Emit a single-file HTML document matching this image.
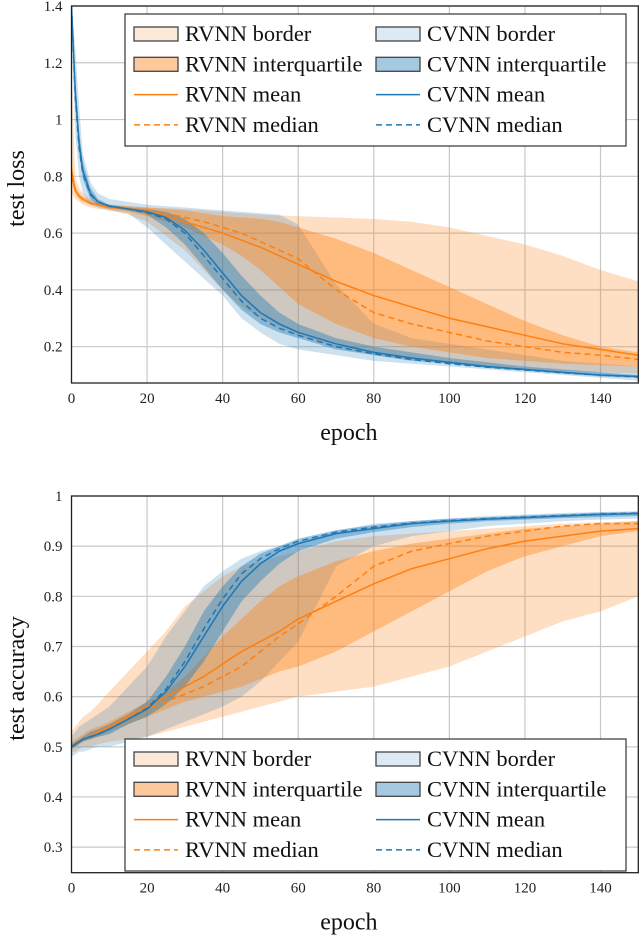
<!DOCTYPE html>
<html><head><meta charset="utf-8">
<style>
html,body{margin:0;padding:0;background:#fff;}
svg{display:block;font-family:"Liberation Serif",serif;}
</style></head>
<body>
<svg id="chart" width="640" height="935" viewBox="0 0 640 935" xmlns="http://www.w3.org/2000/svg"></svg>
<script>
const epochs = [0,1,2,3,5,7,10,15,20,25,30,35,40,45,50,55,60,70,80,90,100,110,120,130,140,150];
// test loss
const lossRMean = [0.82,0.75,0.73,0.72,0.705,0.70,0.69,0.685,0.675,0.66,0.64,0.62,0.60,0.575,0.55,0.52,0.49,0.43,0.38,0.34,0.30,0.27,0.24,0.21,0.19,0.17];
const lossRMed  = [0.80,0.75,0.73,0.72,0.705,0.70,0.69,0.688,0.68,0.67,0.655,0.64,0.62,0.60,0.57,0.54,0.51,0.40,0.32,0.28,0.25,0.22,0.20,0.18,0.17,0.155];
const lossRQ3   = [0.85,0.77,0.74,0.73,0.715,0.705,0.70,0.695,0.69,0.685,0.68,0.67,0.66,0.655,0.65,0.64,0.62,0.58,0.53,0.47,0.41,0.35,0.29,0.24,0.20,0.18];
const lossRQ1   = [0.78,0.74,0.72,0.71,0.70,0.695,0.685,0.675,0.66,0.64,0.62,0.59,0.56,0.52,0.47,0.41,0.35,0.28,0.23,0.20,0.18,0.16,0.15,0.14,0.135,0.13];
const lossRMax  = [1.17,0.80,0.76,0.74,0.72,0.71,0.70,0.695,0.69,0.688,0.685,0.68,0.675,0.67,0.665,0.662,0.66,0.655,0.65,0.64,0.62,0.59,0.56,0.52,0.47,0.43];
const lossRMin  = [0.74,0.72,0.71,0.70,0.69,0.685,0.68,0.665,0.64,0.59,0.54,0.47,0.40,0.34,0.30,0.27,0.24,0.20,0.17,0.155,0.14,0.13,0.12,0.115,0.11,0.105];
const lossCMean = [1.40,1.10,0.92,0.82,0.74,0.71,0.695,0.685,0.675,0.655,0.61,0.54,0.46,0.38,0.32,0.28,0.25,0.21,0.18,0.16,0.145,0.13,0.12,0.11,0.10,0.095];
const lossCMed  = [1.40,1.08,0.90,0.81,0.735,0.71,0.695,0.685,0.672,0.65,0.60,0.52,0.44,0.36,0.30,0.265,0.24,0.20,0.175,0.155,0.14,0.128,0.118,0.108,0.10,0.093];
const lossCQ3   = [1.40,1.15,0.96,0.85,0.76,0.72,0.70,0.69,0.685,0.675,0.65,0.60,0.53,0.45,0.38,0.32,0.28,0.23,0.20,0.18,0.16,0.145,0.13,0.12,0.11,0.10];
const lossCQ1   = [1.38,1.05,0.88,0.79,0.72,0.70,0.69,0.68,0.665,0.62,0.56,0.48,0.40,0.33,0.28,0.25,0.23,0.19,0.17,0.15,0.14,0.125,0.115,0.105,0.095,0.09];
const lossCMax  = [1.40,1.25,1.05,0.88,0.78,0.74,0.72,0.71,0.70,0.695,0.69,0.685,0.68,0.675,0.67,0.665,0.63,0.42,0.28,0.23,0.21,0.19,0.17,0.15,0.14,0.13];
const lossCMin  = [1.30,0.95,0.80,0.74,0.70,0.69,0.68,0.67,0.62,0.56,0.50,0.44,0.38,0.30,0.25,0.21,0.19,0.17,0.15,0.14,0.13,0.12,0.11,0.10,0.09,0.08];
// test accuracy
const accRMean = [0.50,0.505,0.51,0.515,0.52,0.53,0.54,0.56,0.58,0.60,0.62,0.64,0.665,0.69,0.71,0.73,0.755,0.79,0.825,0.855,0.875,0.895,0.91,0.92,0.93,0.935];
const accRMed  = [0.50,0.505,0.51,0.515,0.52,0.53,0.54,0.558,0.575,0.59,0.605,0.62,0.64,0.66,0.69,0.72,0.745,0.80,0.86,0.89,0.905,0.92,0.93,0.94,0.945,0.945];
const accRQ3   = [0.51,0.515,0.52,0.525,0.535,0.54,0.55,0.57,0.59,0.61,0.64,0.68,0.72,0.755,0.79,0.82,0.84,0.87,0.89,0.905,0.915,0.925,0.935,0.94,0.945,0.95];
const accRQ1   = [0.50,0.50,0.505,0.51,0.515,0.52,0.53,0.545,0.56,0.575,0.59,0.60,0.61,0.62,0.635,0.65,0.66,0.69,0.73,0.77,0.81,0.85,0.88,0.90,0.92,0.93];
const accRMax  = [0.53,0.54,0.55,0.56,0.57,0.585,0.61,0.65,0.69,0.73,0.78,0.81,0.84,0.86,0.87,0.88,0.89,0.91,0.92,0.925,0.93,0.935,0.94,0.945,0.948,0.95];
const accRMin  = [0.49,0.49,0.495,0.50,0.50,0.505,0.51,0.515,0.52,0.53,0.54,0.55,0.56,0.57,0.58,0.59,0.60,0.61,0.62,0.64,0.66,0.69,0.72,0.75,0.77,0.80];
const accCMean = [0.50,0.505,0.51,0.515,0.52,0.525,0.535,0.555,0.575,0.61,0.66,0.72,0.78,0.83,0.865,0.89,0.905,0.925,0.935,0.945,0.95,0.954,0.957,0.96,0.963,0.965];
const accCMed  = [0.50,0.505,0.51,0.515,0.52,0.525,0.535,0.555,0.577,0.615,0.67,0.735,0.795,0.845,0.875,0.895,0.91,0.928,0.938,0.946,0.951,0.955,0.958,0.961,0.964,0.966];
const accCQ3   = [0.505,0.51,0.515,0.52,0.53,0.535,0.545,0.565,0.59,0.64,0.70,0.77,0.82,0.86,0.885,0.90,0.915,0.932,0.942,0.95,0.955,0.958,0.961,0.964,0.967,0.968];
const accCQ1   = [0.495,0.50,0.505,0.51,0.515,0.52,0.525,0.545,0.56,0.585,0.62,0.67,0.73,0.79,0.83,0.865,0.89,0.915,0.928,0.938,0.945,0.95,0.953,0.956,0.958,0.96];
const accCMax  = [0.52,0.53,0.54,0.545,0.555,0.565,0.58,0.62,0.66,0.72,0.77,0.82,0.85,0.875,0.89,0.90,0.91,0.93,0.945,0.95,0.955,0.96,0.963,0.966,0.968,0.97];
const accCMin  = [0.48,0.485,0.49,0.49,0.495,0.50,0.50,0.51,0.52,0.535,0.55,0.565,0.58,0.60,0.63,0.67,0.71,0.86,0.90,0.92,0.93,0.94,0.945,0.95,0.953,0.955];
const xTicks = [0,20,40,60,80,100,120,140];
const lossTicks = [0.2,0.4,0.6,0.8,1,1.2,1.4];
const accTicks = [0.3,0.4,0.5,0.6,0.7,0.8,0.9,1];
const legendLabels = ["RVNN border","RVNN interquartile","RVNN mean","RVNN median","CVNN border","CVNN interquartile","CVNN mean","CVNN median"];

const NS = "http://www.w3.org/2000/svg";
const svg = document.getElementById("chart");
const OR = "#ff7f0e", BL = "#1f77b4";
function mk(tag, attrs, parent){
  const e = document.createElementNS(NS, tag);
  for (const k in attrs) e.setAttribute(k, attrs[k]);
  (parent||svg).appendChild(e);
  return e;
}
function fmt(v){ return String(+v.toFixed(2)); }

function panel(cfg){
  const L=71.5, R=638.3, T=cfg.top, B=cfg.bottom;
  const xs = v => L + (v-0)/(150-0)*(R-L);
  const ys = v => B - (v-cfg.ymin)/(cfg.ymax-cfg.ymin)*(B-T);
  const g = mk("g", {});
  
  
  const cid = cfg.name + "-clip";
  const cp = mk("clipPath", {id: cid}, g);
  mk("rect", {x:L, y:T, width:R-L, height:B-T}, cp);
  xTicks.forEach(t=>{
    const l = mk("line",{x1:xs(t),x2:xs(t),y1:T,y2:B,stroke:"#c8c8c8","stroke-width":1.2},g);
    
    
  });
  cfg.yTicks.forEach(t=>{
    const l = mk("line",{x1:L,x2:R,y1:ys(t),y2:ys(t),stroke:"#c8c8c8","stroke-width":1.2},g);
    
    
  });
  const plot = mk("g", {"clip-path":"url(#"+cid+")"}, g);
  function band(lo, hi, fill, name){
    let d = "M";
    epochs.forEach((e,i)=>{ d += (i?" L":"") + xs(e).toFixed(2)+","+ys(hi[i]).toFixed(2); });
    for (let i=epochs.length-1;i>=0;i--) d += " L"+xs(epochs[i]).toFixed(2)+","+ys(lo[i]).toFixed(2);
    const p = mk("path",{d:d+" Z", fill:fill, stroke:"none"}, plot);
    
    
  }
  function line(arr, color, dash, name){
    const d = "M" + epochs.map((e,i)=>xs(e).toFixed(2)+","+ys(arr[i]).toFixed(2)).join(" L");
    const p = mk("path",{d:d, fill:"none", stroke:color, "stroke-width":1.5, "stroke-dasharray":dash||"none"}, plot);
    
    
  }
  const D = cfg.data;
  band(D.rMin, D.rMax, "rgba(255,127,14,0.25)", "rvnn-border-band");
  band(D.cMin, D.cMax, "rgba(31,119,180,0.22)", "cvnn-border-band");
  band(D.rQ1, D.rQ3, "rgba(255,127,14,0.38)", "rvnn-interquartile-band");
  band(D.cQ1, D.cQ3, "rgba(31,119,180,0.4)", "cvnn-interquartile-band");
  line(D.rMean, OR, null, "rvnn-mean-line");
  line(D.rMed, OR, "6,4", "rvnn-median-line");
  line(D.cMean, BL, null, "cvnn-mean-line");
  line(D.cMed, BL, "6,4", "cvnn-median-line");
  const fr = mk("rect",{x:L,y:T,width:R-L,height:B-T,fill:"none",stroke:"#222","stroke-width":1.3},g);
  
  
  xTicks.forEach(t=>{
    const tx = mk("text",{x:xs(t),y:B+20,"text-anchor":"middle","font-size":"15",fill:"#222"},g);
    tx.textContent = t;
    
    
  });
  cfg.yTicks.forEach(t=>{
    const tx = mk("text",{x:L-9,y:ys(t)+5,"text-anchor":"end","font-size":"15",fill:"#222"},g);
    tx.textContent = fmt(t);
    
    
  });
  const xt = mk("text",{x:(L+R)/2-6,y:B+57,"text-anchor":"middle","font-size":"24",fill:"#111"},g);
  xt.textContent = "epoch";
  
  
  const yt = mk("text",{x:0,y:0,"text-anchor":"middle","font-size":"24",fill:"#111",transform:"translate(24,"+((T+B)/2-6)+") rotate(-90)"},g);
  yt.textContent = cfg.ytitle;
  
  
  const LT = cfg.legTop;
  const lg = mk("g",{},g);
  
  
  mk("rect",{x:125,y:LT,width:501,height:132,fill:"#fff",stroke:"#333","stroke-width":1.2},lg);
  const swFill = ["#fde9d8","#fdc99c",null,null,"#dde9f3","#a6c9e2",null,null];
  legendLabels.forEach((lab,i)=>{
    const col = i<4?0:1, row = i%4;
    const sx = col? 376:134, cy = LT+20+row*30.3;
    const ent = mk("g",{},lg);
    
    
    if (row<2){
      mk("rect",{x:sx,y:cy-7,width:44,height:14,fill:swFill[i],stroke:"#444","stroke-width":1.3},ent);
    } else {
      mk("line",{x1:sx,x2:sx+44,y1:cy,y2:cy,stroke:col?BL:OR,"stroke-width":1.5,"stroke-dasharray":row==3?"6,4":"none"},ent);
    }
    const tx = mk("text",{x:sx+51,y:cy+7,"font-size":"22.5",fill:"#111"},ent);
    tx.textContent = lab;
  });
}
panel({name:"test-loss-panel", top:6, bottom:383, ymin:0.072, ymax:1.4, yTicks:lossTicks, ytitle:"test loss", legTop:14,
  data:{rMean:lossRMean,rMed:lossRMed,rQ3:lossRQ3,rQ1:lossRQ1,rMax:lossRMax,rMin:lossRMin,cMean:lossCMean,cMed:lossCMed,cQ3:lossCQ3,cQ1:lossCQ1,cMax:lossCMax,cMin:lossCMin}});
panel({name:"test-accuracy-panel", top:496, bottom:872.7, ymin:0.249, ymax:1, yTicks:accTicks, ytitle:"test accuracy", legTop:739,
  data:{rMean:accRMean,rMed:accRMed,rQ3:accRQ3,rQ1:accRQ1,rMax:accRMax,rMin:accRMin,cMean:accCMean,cMed:accCMed,cQ3:accCQ3,cQ1:accCQ1,cMax:accCMax,cMin:accCMin}});
</script>
</body></html>
